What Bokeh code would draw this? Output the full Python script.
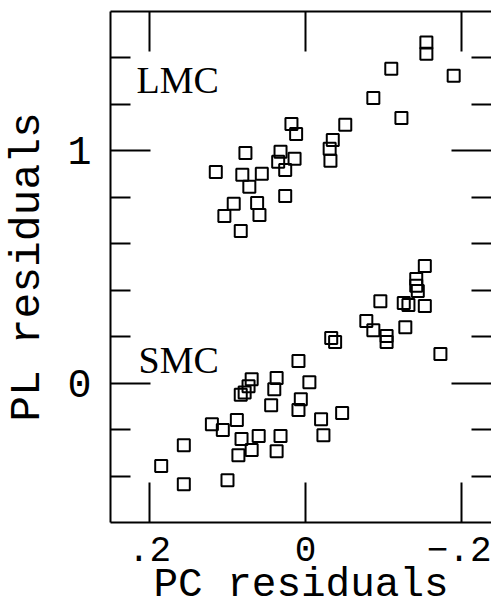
from bokeh.plotting import figure
from bokeh.models import FixedTicker, LinearAxis, Range1d, Label, CustomLabelingPolicy
from bokeh.embed import file_html
from bokeh.resources import INLINE

# LMC residuals
lmc_x = [-0.155, -0.155, -0.110, -0.190, -0.087, -0.123, -0.051, 0.018, 0.012,
         -0.035, -0.031, -0.032, 0.077, 0.032, 0.014, 0.035, 0.026, 0.115, 0.081,
         0.056, 0.072, 0.026, 0.092, 0.062, 0.104, 0.059, 0.083]
lmc_y = [1.466, 1.418, 1.353, 1.323, 1.228, 1.142, 1.112, 1.116, 1.073,
         1.047, 1.009, 0.957, 0.991, 0.996, 0.966, 0.953, 0.918, 0.909, 0.897,
         0.901, 0.845, 0.806, 0.772, 0.776, 0.720, 0.724, 0.655]

# SMC residuals
smc_x = [-0.153, -0.142, -0.142, -0.144, -0.096, -0.126, -0.132, -0.153, -0.078,
         -0.087, -0.128, -0.104, -0.104, -0.033, -0.038, -0.173, 0.009, 0.069,
         0.037, 0.073, 0.040, -0.005, 0.083, 0.078, 0.006, 0.009, 0.044, -0.020,
         -0.047, -0.023, 0.088, 0.120, 0.106, 0.082, 0.060, 0.032, 0.069, 0.037,
         0.086, 0.156, 0.185, 0.156, 0.100]
smc_y = [0.504, 0.448, 0.419, 0.397, 0.353, 0.345, 0.336, 0.332, 0.267,
         0.228, 0.241, 0.203, 0.177, 0.194, 0.177, 0.125, 0.095, 0.017,
         0.022, -0.013, -0.026, 0.004, -0.050, -0.040, -0.069, -0.116, -0.095, -0.155,
         -0.129, -0.224, -0.159, -0.177, -0.202, -0.241, -0.228, -0.228, -0.288, -0.293,
         -0.310, -0.267, -0.357, -0.435, -0.418]

x_ticks = [0.2, 0.0, -0.2]
x_tick_labels = [".2", "0", "\u2212.2"]
y_ticks = [0, 1]
y_tick_labels = ["0", "1"]
y_minor = [-0.4, -0.2, 0.2, 0.4, 0.6, 0.8, 1.2, 1.4]

group_names = ["LMC", "SMC"]
group_label_x = [0.2167, 0.214]
group_label_y = [1.306, 0.099]

x_title = "PC residuals"
y_title = "PL residuals"

TT = "Liberation Mono"
SERIF = "Liberation Serif"

FRAME_W, FRAME_H = 381, 511
p = figure(frame_width=FRAME_W, frame_height=FRAME_H,
           x_range=Range1d(0.25, -0.2385), y_range=Range1d(-0.6, 1.6),
           output_backend="svg", toolbar_location=None,
           x_axis_location=None, y_axis_location=None,
           min_border_left=104, min_border_right=0,
           min_border_top=11, min_border_bottom=76)
p.outline_line_color = None
p.grid.visible = False
p.background_fill_color = "white"
p.border_fill_color = "white"

xt = FixedTicker(ticks=x_ticks, minor_ticks=[])
yt = FixedTicker(ticks=y_ticks, minor_ticks=y_minor)
x_over = {t: l for t, l in zip(x_ticks, x_tick_labels)}
y_over = {t: l for t, l in zip(y_ticks, y_tick_labels)}

no_labels = "for (const i of Array.from(indices)) { indices.unset(i) }\nreturn indices"


def style(ax, show_labels, show_line=True):
    ax.axis_line_width = 2
    ax.axis_line_color = "black" if show_line else None
    ax.major_tick_line_width = 2
    ax.minor_tick_line_width = 2
    ax.major_tick_line_color = "black"
    ax.minor_tick_line_color = "black"
    ax.major_tick_in = 40
    ax.major_tick_out = 0
    ax.minor_tick_in = 20
    ax.minor_tick_out = 0
    ax.major_label_text_color = "black"
    ax.axis_label_text_color = "black"
    if not show_labels:
        ax.major_label_text_font_size = "0px"
        ax.major_label_standoff = 0
        ax.major_label_policy = CustomLabelingPolicy(code=no_labels)
        ax.axis_label = None


bottom = LinearAxis(ticker=xt, major_label_overrides=x_over)
style(bottom, True)
bottom.major_label_text_font = TT
bottom.major_label_text_font_size = "36px"
bottom.major_label_standoff = 14
bottom.axis_label = x_title
bottom.axis_label_text_font = TT
bottom.axis_label_text_font_size = "41px"
bottom.axis_label_text_font_style = "normal"
bottom.axis_label_standoff = -2
p.add_layout(bottom, "below")

top = LinearAxis(ticker=xt)
style(top, False)
p.add_layout(top, "above")

left = LinearAxis(ticker=yt, major_label_overrides=y_over)
style(left, True)
left.major_label_text_font = TT
left.major_label_text_font_size = "40px"
left.major_label_standoff = 19
left.axis_label = y_title
left.axis_label_text_font = TT
left.axis_label_text_font_size = "43px"
left.axis_label_text_font_style = "normal"
left.axis_label_standoff = 12
p.add_layout(left, "left")

right = LinearAxis(ticker=yt)
style(right, False, show_line=False)
p.add_layout(right, "right")

p.scatter(lmc_x, lmc_y, marker="square", size=12, fill_color=None,
          line_color="black", line_width=2)
p.scatter(smc_x, smc_y, marker="square", size=12, fill_color=None,
          line_color="black", line_width=2)

for name, lx, ly in zip(group_names, group_label_x, group_label_y):
    p.add_layout(Label(x=lx, y=ly, text=name, text_font=SERIF,
                       text_font_size="38px", text_color="black",
                       text_baseline="middle"))

open("out.html", "w").write(file_html(p, INLINE))
